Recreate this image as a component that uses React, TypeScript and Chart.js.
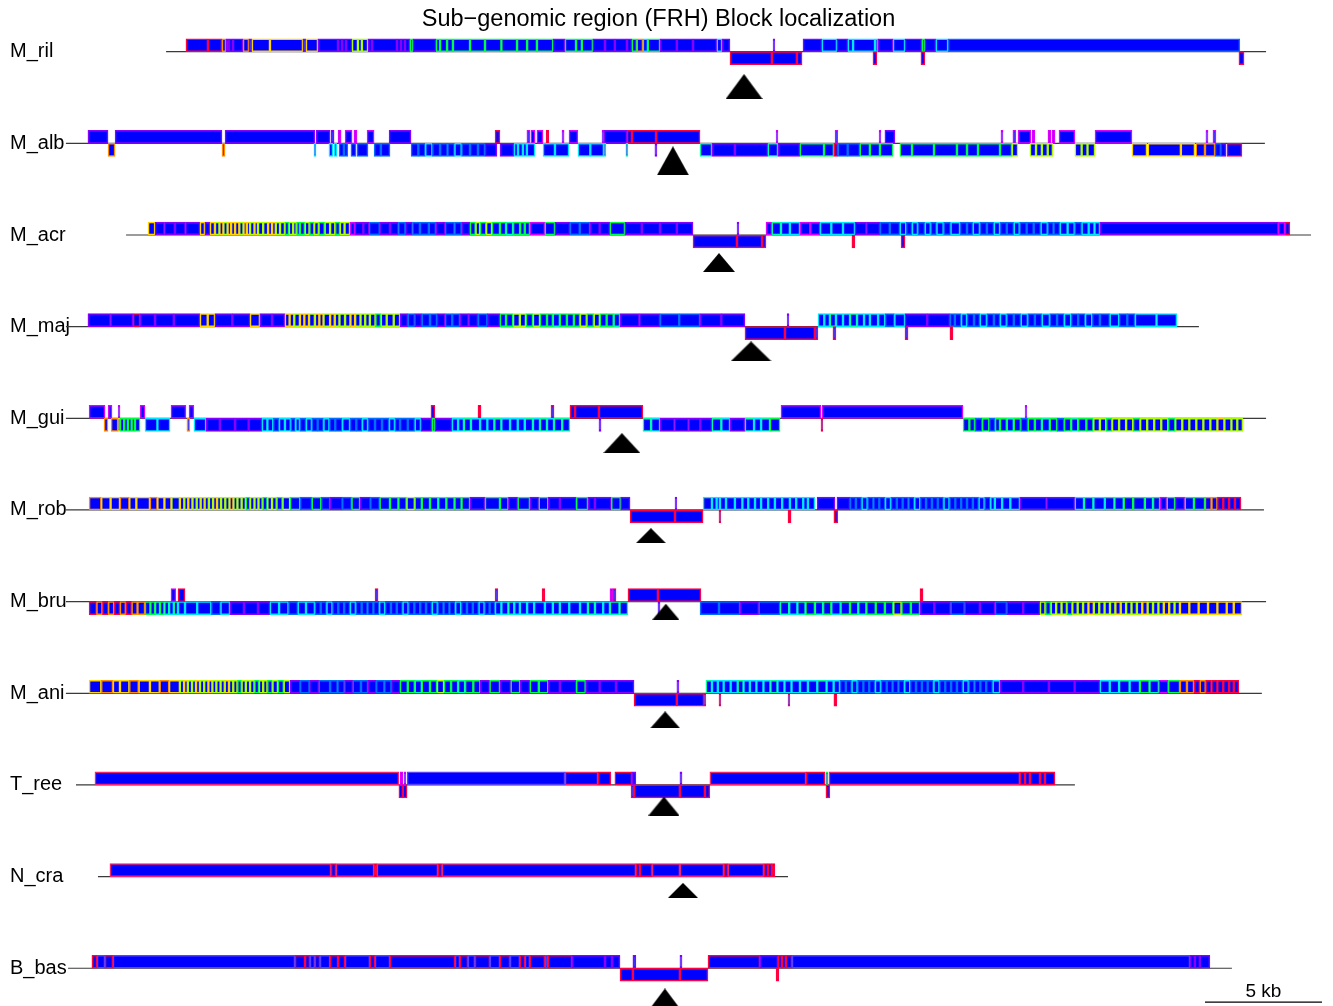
import React, { useEffect, useRef } from 'react';
import { Chart, registerables } from 'chart.js';
Chart.register(...registerables);

// ---------------- data (positions in kb) ----------------
const trackNames = ['M_ril', 'M_alb', 'M_acr', 'M_maj', 'M_gui', 'M_rob', 'M_bru', 'M_ani', 'T_ree', 'N_cra', 'B_bas'];
const lineStartKb = [6.67, 2.39, 4.96, 2.39, 2.39, 2.39, 2.39, 2.39, 2.82, 3.76, 2.48];
const lineEndKb = [53.68, 53.63, 55.6, 50.81, 53.68, 53.59, 53.68, 53.5, 45.51, 33.25, 52.22];
const frhKb = [31.37, 28.33, 30.3, 31.67, 26.15, 27.39, 28.03, 28.0, 27.95, 28.76, 27.99];
const frhDepth = [0.38, 0.19, 0.3, 0.27, 0.27, 0.28, 0.11, 0.29, 0.23, 0.15, 0.33];
const scaleBarKb = [51.07, 56.07];
const scaleBarDepth = 10.369;
const scaleBarLabel = '5 kb';
const titleText = 'Sub\u2212genomic region (FRH) Block localization';

// block: [start kb, end kb, strand (+1 above / -1 below), similarity class]
type Block = [number, number, number, string];

const M_ril: Block[] = [
  [7.52, 8.46, 1, 'R'], [8.46, 9.06, 1, 'R'], [9.06, 9.23, 1, 'O'], [9.23, 9.36, 1, 'P'], [9.36, 9.53, 1, 'P'], [9.53, 9.96, 1, 'P'],
  [9.96, 10.21, 1, 'O'], [10.21, 10.34, 1, 'P'], [10.34, 11.11, 1, 'Y'], [11.11, 12.52, 1, 'Y'], [12.52, 12.65, 1, 'P'], [12.65, 13.16, 1, 'Y'],
  [13.16, 14.02, 1, 'P'], [14.02, 14.19, 1, 'P'], [14.19, 14.36, 1, 'P'], [14.36, 14.62, 1, 'P'], [14.62, 14.87, 1, 'L'], [14.87, 15.04, 1, 'L'],
  [15.04, 15.3, 1, 'L'], [15.3, 15.47, 1, 'P'], [15.47, 16.54, 1, 'P'], [16.54, 16.71, 1, 'P'], [16.71, 16.88, 1, 'P'], [16.88, 17.09, 1, 'P'],
  [17.09, 17.22, 1, 'G'], [17.22, 18.21, 1, 'P'], [18.21, 18.38, 1, 'G'], [18.38, 18.68, 1, 'G'], [18.68, 18.93, 1, 'G'], [18.93, 19.66, 1, 'G'],
  [19.66, 20.3, 1, 'G'], [20.3, 21.0, 1, 'G'], [21.0, 21.67, 1, 'G'], [21.67, 22.1, 1, 'G'], [22.1, 22.52, 1, 'G'], [22.52, 23.21, 1, 'G'],
  [23.21, 23.72, 1, 'P'], [23.72, 24.19, 1, 'G'], [24.19, 24.44, 1, 'G'], [24.44, 24.91, 1, 'G'], [24.91, 25.43, 1, 'P'], [25.43, 25.85, 1, 'P'],
  [25.85, 26.37, 1, 'P'], [26.37, 26.58, 1, 'P'], [26.58, 26.79, 1, 'G'], [26.79, 27.05, 1, 'O'], [27.05, 27.26, 1, 'C'], [27.26, 27.78, 1, 'G'],
  [27.78, 28.5, 1, 'P'], [28.5, 29.19, 1, 'P'], [29.19, 30.21, 1, 'P'], [30.21, 30.43, 1, 'C'], [30.43, 30.77, 1, 'P'], [32.61, 32.69, 1, 'P'],
  [30.77, 32.56, -1, 'R'], [32.56, 33.63, -1, 'R'], [33.63, 33.85, -1, 'R'],
  [33.89, 34.7, 1, 'P'], [34.7, 35.34, 1, 'C'], [35.34, 35.81, 1, 'P'], [35.81, 36.03, 1, 'C'], [36.03, 36.97, 1, 'C'], [36.97, 37.09, 1, 'C'],
  [37.09, 37.74, 1, 'P'], [37.74, 38.25, 1, 'C'], [38.25, 38.97, 1, 'P'], [38.97, 39.1, 1, 'G'], [39.1, 39.57, 1, 'P'], [39.57, 40.09, 1, 'C'],
  [40.09, 52.56, 1, 'D'],
  [36.88, 37.05, -1, 'R'], [38.93, 39.1, -1, 'R'], [52.52, 52.74, -1, 'R'],
];

const M_alb: Block[] = [
  [3.33, 4.19, 1, 'P'], [4.49, 9.06, 1, 'P'], [9.19, 13.03, 1, 'P'], [13.08, 13.68, 1, 'P'], [13.72, 13.85, 1, 'P'], [14.02, 14.15, 1, 'M'],
  [14.32, 14.62, 1, 'M'], [14.7, 14.83, 1, 'M'], [15.26, 15.56, 1, 'M'], [16.2, 17.14, 1, 'P'], [20.73, 20.94, 1, 'R'], [22.09, 22.22, 1, 'M'],
  [22.26, 22.44, 1, 'M'], [22.52, 22.78, 1, 'M'], [22.91, 23.03, 1, 'R'], [23.59, 23.68, 1, 'M'], [23.89, 24.27, 1, 'M'], [25.3, 25.38, 1, 'M'],
  [25.38, 26.37, 1, 'P'], [26.37, 26.58, 1, 'R'], [26.58, 27.61, 1, 'R'], [27.61, 29.49, 1, 'R'], [32.74, 32.82, 1, 'M'], [35.26, 35.38, 1, 'M'],
  [37.14, 37.22, 1, 'M'], [37.39, 37.82, 1, 'P'], [42.35, 42.44, 1, 'M'], [42.86, 42.99, 1, 'M'], [43.08, 43.63, 1, 'M'], [43.68, 43.8, 1, 'M'],
  [44.36, 44.49, 1, 'M'], [44.53, 44.66, 1, 'M'], [44.83, 45.51, 1, 'M'], [46.37, 47.95, 1, 'M'], [51.11, 51.2, 1, 'M'], [51.41, 51.54, 1, 'M'],
  [4.19, 4.49, -1, 'O'], [9.06, 9.19, -1, 'O'], [12.99, 13.08, -1, 'C'], [13.63, 13.8, -1, 'C'], [13.85, 13.97, -1, 'C'], [14.06, 14.27, -1, 'D'],
  [14.27, 14.44, -1, 'D'], [14.57, 14.79, -1, 'D'], [14.83, 15.3, -1, 'D'], [15.56, 15.85, -1, 'D'], [15.85, 16.24, -1, 'D'], [17.14, 17.45, -1, 'D'],
  [17.45, 17.75, -1, 'D'], [17.75, 18.05, -1, 'C'], [18.05, 18.38, -1, 'D'], [18.38, 18.7, -1, 'D'], [18.7, 19.0, -1, 'D'], [19.0, 19.3, -1, 'C'],
  [19.3, 19.66, -1, 'D'], [19.66, 20.0, -1, 'D'], [20.0, 20.3, -1, 'D'], [20.3, 20.81, -1, 'P'], [20.94, 21.54, -1, 'P'], [21.54, 21.71, -1, 'C'],
  [21.71, 21.92, -1, 'C'], [21.92, 22.09, -1, 'C'], [22.09, 22.44, -1, 'C'], [22.78, 23.29, -1, 'C'], [23.29, 23.89, -1, 'C'], [24.27, 24.8, -1, 'C'],
  [24.8, 25.38, -1, 'C'], [25.38, 25.47, -1, 'S'], [26.32, 26.41, -1, 'S'], [27.56, 27.65, -1, 'P'], [29.49, 30.0, -1, 'S'], [30.0, 30.98, -1, 'P'],
  [30.98, 32.39, -1, 'P'], [32.39, 32.82, -1, 'S'], [32.82, 33.76, -1, 'P'], [33.76, 34.79, -1, 'G'], [34.79, 35.21, -1, 'G'], [35.21, 35.38, -1, 'R'],
  [35.38, 35.8, -1, 'D'], [35.8, 36.32, -1, 'D'], [36.32, 36.75, -1, 'G'], [36.75, 37.18, -1, 'G'], [37.18, 37.74, -1, 'G'], [38.03, 38.55, -1, 'G'],
  [38.55, 39.49, -1, 'G'], [39.49, 40.47, -1, 'G'], [40.47, 40.9, -1, 'G'], [40.9, 41.37, -1, 'G'], [41.37, 42.31, -1, 'G'], [42.31, 42.82, -1, 'G'],
  [42.82, 43.08, -1, 'L'], [43.59, 43.85, -1, 'L'], [43.85, 44.1, -1, 'L'], [44.1, 44.35, -1, 'L'], [44.35, 44.57, -1, 'L'], [45.51, 45.8, -1, 'L'],
  [45.8, 46.05, -1, 'L'], [46.05, 46.37, -1, 'L'], [47.95, 48.59, -1, 'Y'], [48.63, 50.04, -1, 'Y'], [50.04, 50.64, -1, 'Y'], [50.68, 51.07, -1, 'O'],
  [51.07, 51.5, -1, 'O'], [51.5, 51.75, -1, 'D'], [51.75, 51.97, -1, 'P'], [52.01, 52.65, -1, 'R'],
];

const M_acr: Block[] = [
  [5.9, 6.2, 1, 'Y'], [6.2, 6.6, 1, 'P'], [6.6, 7.05, 1, 'P'], [7.05, 7.5, 1, 'P'], [7.5, 8.12, 1, 'P'],
  [8.12, 8.33, 1, 'Y'], [8.33, 8.55, 1, 'P'], [8.55, 8.76, 1, 'Y'], [8.76, 8.95, 1, 'L'], [8.95, 9.12, 1, 'Y'], [9.12, 9.3, 1, 'L'],
  [9.3, 9.45, 1, 'Y'], [9.45, 9.62, 1, 'Y'], [9.62, 9.8, 1, 'Y'], [9.8, 9.98, 1, 'L'], [9.98, 10.12, 1, 'Y'], [10.12, 10.26, 1, 'Y'],
  [10.26, 10.45, 1, 'L'], [10.45, 10.6, 1, 'Y'], [10.6, 10.82, 1, 'L'], [10.82, 11.03, 1, 'L'], [11.03, 11.2, 1, 'Y'], [11.2, 11.36, 1, 'Y'],
  [11.36, 11.54, 1, 'L'], [11.54, 11.75, 1, 'L'], [11.75, 11.92, 1, 'G'], [11.92, 12.1, 1, 'L'], [12.1, 12.25, 1, 'L'], [12.25, 12.39, 1, 'G'],
  [12.39, 12.6, 1, 'G'], [12.6, 12.8, 1, 'L'], [12.8, 13.0, 1, 'G'], [13.0, 13.2, 1, 'L'], [13.2, 13.45, 1, 'G'], [13.45, 13.68, 1, 'L'],
  [13.68, 13.9, 1, 'L'], [13.9, 14.1, 1, 'G'], [14.1, 14.3, 1, 'L'], [14.3, 14.53, 1, 'L'], [14.53, 14.74, 1, 'M'],
  [14.74, 15.1, 1, 'P'], [15.1, 15.35, 1, 'P'], [15.35, 15.8, 1, 'D'], [15.8, 16.24, 1, 'P'], [16.24, 16.6, 1, 'P'], [16.6, 16.9, 1, 'D'],
  [16.9, 17.2, 1, 'P'], [17.2, 17.52, 1, 'D'], [17.52, 17.9, 1, 'D'], [17.9, 18.2, 1, 'D'], [18.2, 18.6, 1, 'P'], [18.6, 19.0, 1, 'D'],
  [19.0, 19.3, 1, 'D'], [19.3, 19.66, 1, 'P'], [19.66, 19.9, 1, 'G'], [19.9, 20.09, 1, 'L'], [20.09, 20.35, 1, 'G'], [20.35, 20.6, 1, 'L'],
  [20.6, 20.94, 1, 'G'], [20.94, 21.2, 1, 'G'], [21.2, 21.5, 1, 'S'], [21.5, 21.8, 1, 'G'], [21.8, 22.0, 1, 'G'], [22.0, 22.22, 1, 'G'],
  [22.22, 22.86, 1, 'M'], [22.86, 23.29, 1, 'G'], [23.29, 23.93, 1, 'P'], [23.93, 24.35, 1, 'D'], [24.35, 24.79, 1, 'D'], [24.79, 25.2, 1, 'P'],
  [25.2, 25.64, 1, 'P'], [25.64, 26.28, 1, 'G'], [26.28, 27.0, 1, 'P'], [27.0, 27.78, 1, 'P'], [27.78, 28.5, 1, 'P'], [28.5, 29.19, 1, 'P'],
  [31.07, 31.15, 1, 'P'],
  [29.19, 31.07, -1, 'R'], [31.07, 32.14, -1, 'R'], [32.14, 32.31, -1, 'R'],
  [32.31, 32.56, 1, 'M'], [32.56, 32.95, 1, 'S'], [32.95, 33.33, 1, 'C'], [33.33, 33.76, 1, 'C'], [33.76, 34.2, 1, 'M'], [34.2, 34.62, 1, 'M'],
  [34.62, 35.1, 1, 'C'], [35.1, 35.6, 1, 'C'], [35.6, 36.11, 1, 'C'], [36.11, 36.6, 1, 'P'], [36.6, 37.18, 1, 'P'], [37.18, 37.6, 1, 'D'],
  [37.6, 38.03, 1, 'D'], [38.03, 38.3, 1, 'C'], [38.3, 38.55, 1, 'D'], [38.55, 38.8, 1, 'C'], [38.8, 39.1, 1, 'D'], [39.1, 39.35, 1, 'C'],
  [39.35, 39.6, 1, 'D'], [39.6, 39.9, 1, 'C'], [39.9, 40.2, 1, 'D'], [40.2, 40.6, 1, 'C'], [40.6, 40.9, 1, 'D'], [40.9, 41.15, 1, 'D'],
  [41.15, 41.45, 1, 'C'], [41.45, 41.75, 1, 'D'], [41.75, 42.05, 1, 'D'], [42.05, 42.31, 1, 'C'], [42.31, 42.6, 1, 'D'], [42.6, 42.9, 1, 'D'],
  [42.9, 43.15, 1, 'C'], [43.15, 43.45, 1, 'D'], [43.45, 43.75, 1, 'D'], [43.75, 44.05, 1, 'D'], [44.05, 44.35, 1, 'C'], [44.35, 44.6, 1, 'D'],
  [44.6, 44.87, 1, 'D'], [44.87, 45.2, 1, 'C'], [45.2, 45.5, 1, 'C'], [45.5, 45.8, 1, 'D'], [45.8, 46.1, 1, 'C'], [46.1, 46.35, 1, 'C'],
  [46.35, 46.58, 1, 'C'], [46.58, 54.2, 1, 'P'], [54.2, 54.49, 1, 'M'], [54.49, 54.7, 1, 'R'],
  [35.98, 36.11, -1, 'R'], [38.08, 38.25, -1, 'R'],
];

const M_maj: Block[] = [
  [3.33, 4.3, 1, 'P'], [4.3, 5.26, 1, 'P'], [5.26, 5.56, 1, 'R'], [5.56, 6.2, 1, 'P'], [6.2, 7.0, 1, 'P'], [7.0, 8.12, 1, 'P'],
  [8.12, 8.45, 1, 'Y'], [8.45, 8.76, 1, 'Y'], [8.76, 9.5, 1, 'P'], [9.5, 10.26, 1, 'P'], [10.26, 10.68, 1, 'Y'], [10.68, 11.2, 1, 'P'],
  [11.2, 11.75, 1, 'P'], [11.75, 11.95, 1, 'Y'], [11.95, 12.15, 1, 'Y'], [12.15, 12.39, 1, 'L'], [12.39, 12.58, 1, 'Y'], [12.58, 12.78, 1, 'Y'],
  [12.78, 13.03, 1, 'L'], [13.03, 13.22, 1, 'Y'], [13.22, 13.4, 1, 'Y'], [13.4, 13.68, 1, 'L'], [13.68, 13.88, 1, 'Y'], [13.88, 14.08, 1, 'L'],
  [14.08, 14.32, 1, 'L'], [14.32, 14.55, 1, 'L'], [14.55, 14.75, 1, 'Y'], [14.75, 14.98, 1, 'L'], [14.98, 15.18, 1, 'L'], [15.18, 15.38, 1, 'L'],
  [15.38, 15.62, 1, 'L'], [15.62, 15.85, 1, 'G'], [15.85, 16.1, 1, 'L'], [16.1, 16.4, 1, 'L'], [16.4, 16.67, 1, 'L'],
  [16.67, 17.0, 1, 'P'], [17.0, 17.3, 1, 'D'], [17.3, 17.6, 1, 'P'], [17.6, 17.95, 1, 'D'], [17.95, 18.25, 1, 'D'], [18.25, 18.6, 1, 'P'],
  [18.6, 18.9, 1, 'D'], [18.9, 19.23, 1, 'D'], [19.23, 19.6, 1, 'P'], [19.6, 20.0, 1, 'P'], [20.0, 20.4, 1, 'D'], [20.4, 20.94, 1, 'P'],
  [20.94, 21.2, 1, 'G'], [21.2, 21.5, 1, 'G'], [21.5, 21.79, 1, 'L'], [21.79, 22.05, 1, 'L'], [22.05, 22.35, 1, 'G'], [22.35, 22.65, 1, 'L'],
  [22.65, 22.95, 1, 'G'], [22.95, 23.2, 1, 'G'], [23.2, 23.5, 1, 'S'], [23.5, 23.8, 1, 'G'], [23.8, 24.1, 1, 'G'], [24.1, 24.36, 1, 'G'],
  [24.36, 24.65, 1, 'L'], [24.65, 24.95, 1, 'G'], [24.95, 25.21, 1, 'L'], [25.21, 25.5, 1, 'G'], [25.5, 25.8, 1, 'G'], [25.8, 26.07, 1, 'S'],
  [26.07, 26.9, 1, 'P'], [26.9, 27.78, 1, 'P'], [27.78, 28.6, 1, 'D'], [28.6, 29.49, 1, 'D'], [29.49, 30.4, 1, 'P'], [30.4, 31.41, 1, 'P'],
  [33.21, 33.29, 1, 'P'],
  [31.41, 33.12, -1, 'R'], [33.12, 34.4, -1, 'R'], [34.4, 34.53, -1, 'R'],
  [34.53, 34.8, 1, 'C'], [34.8, 35.04, 1, 'C'], [35.04, 35.3, 1, 'S'], [35.3, 35.6, 1, 'C'], [35.6, 35.9, 1, 'C'], [35.9, 36.2, 1, 'S'],
  [36.2, 36.5, 1, 'C'], [36.5, 36.75, 1, 'C'], [36.75, 37.1, 1, 'C'], [37.1, 37.4, 1, 'C'], [37.4, 37.8, 1, 'D'], [37.8, 38.25, 1, 'C'],
  [38.25, 39.2, 1, 'P'], [39.2, 40.17, 1, 'P'], [40.17, 40.38, 1, 'D'],
  [40.38, 40.65, 1, 'D'], [40.65, 40.9, 1, 'C'], [40.9, 41.2, 1, 'D'], [41.2, 41.45, 1, 'D'], [41.45, 41.75, 1, 'C'], [41.75, 42.05, 1, 'D'],
  [42.05, 42.31, 1, 'D'], [42.31, 42.6, 1, 'C'], [42.6, 42.9, 1, 'D'], [42.9, 43.2, 1, 'D'], [43.2, 43.5, 1, 'C'], [43.5, 43.8, 1, 'D'],
  [43.8, 44.1, 1, 'D'], [44.1, 44.44, 1, 'C'], [44.44, 44.75, 1, 'D'], [44.75, 45.05, 1, 'D'], [45.05, 45.35, 1, 'C'], [45.35, 45.65, 1, 'D'],
  [45.65, 45.95, 1, 'D'], [45.95, 46.25, 1, 'C'], [46.25, 46.58, 1, 'D'], [46.58, 47.0, 1, 'D'], [47.0, 47.4, 1, 'C'], [47.4, 47.75, 1, 'D'],
  [47.75, 48.08, 1, 'D'], [48.08, 49.0, 1, 'C'], [49.0, 49.87, 1, 'C'],
  [35.17, 35.3, -1, 'R'], [38.25, 38.38, -1, 'R'], [40.17, 40.3, -1, 'R'],
];

const M_gui: Block[] = [
  [3.38, 4.06, 1, 'M'], [4.19, 4.36, 1, 'M'], [4.62, 4.7, 1, 'M'], [5.56, 5.77, 1, 'M'], [6.88, 7.52, 1, 'M'], [7.65, 7.86, 1, 'M'],
  [17.99, 18.16, 1, 'R'], [20.0, 20.13, 1, 'R'], [23.12, 23.25, 1, 'R'], [23.93, 24.15, 1, 'R'], [24.15, 25.17, 1, 'R'], [25.17, 27.05, 1, 'R'],
  [32.95, 34.66, 1, 'M'], [34.7, 40.73, 1, 'M'], [43.38, 43.46, 1, 'M'],
  [4.02, 4.19, -1, 'O'], [4.32, 4.62, -1, 'O'], [4.62, 4.7, -1, 'Y'], [4.7, 4.88, -1, 'G'], [4.88, 5.04, -1, 'G'], [5.04, 5.2, -1, 'G'],
  [5.2, 5.34, -1, 'G'], [5.34, 5.56, -1, 'G'], [5.77, 6.3, -1, 'C'], [6.3, 6.84, -1, 'C'], [7.56, 7.69, -1, 'O'], [7.86, 8.38, -1, 'C'],
  [8.38, 8.97, -1, 'P'], [8.97, 9.62, -1, 'P'], [9.62, 10.2, -1, 'P'], [10.2, 10.77, -1, 'P'],
  [10.77, 11.0, -1, 'C'], [11.0, 11.25, -1, 'C'], [11.25, 11.5, -1, 'D'], [11.5, 11.75, -1, 'C'], [11.75, 12.0, -1, 'C'], [12.0, 12.2, -1, 'D'],
  [12.2, 12.39, -1, 'C'], [12.39, 12.65, -1, 'D'], [12.65, 12.9, -1, 'C'], [12.9, 13.15, -1, 'D'], [13.15, 13.4, -1, 'D'], [13.4, 13.65, -1, 'C'],
  [13.65, 13.9, -1, 'D'], [13.9, 14.2, -1, 'D'], [14.2, 14.53, -1, 'C'], [14.53, 14.8, -1, 'D'], [14.8, 15.05, -1, 'D'], [15.05, 15.3, -1, 'C'],
  [15.3, 15.6, -1, 'D'], [15.6, 15.9, -1, 'D'], [15.9, 16.2, -1, 'D'], [16.2, 16.45, -1, 'C'], [16.45, 16.67, -1, 'D'], [16.67, 17.0, -1, 'D'],
  [17.0, 17.3, -1, 'D'], [17.3, 17.56, -1, 'C'], [17.56, 18.03, -1, 'P'], [18.03, 18.16, -1, 'G'], [18.16, 18.89, -1, 'P'],
  [18.89, 19.15, -1, 'C'], [19.15, 19.4, -1, 'C'], [19.4, 19.7, -1, 'S'], [19.7, 20.09, -1, 'C'], [20.09, 20.4, -1, 'C'], [20.4, 20.7, -1, 'C'],
  [20.7, 21.0, -1, 'S'], [21.0, 21.37, -1, 'C'], [21.37, 21.7, -1, 'C'], [21.7, 22.0, -1, 'C'], [22.0, 22.35, -1, 'S'], [22.35, 22.65, -1, 'C'],
  [22.65, 22.95, -1, 'S'], [22.95, 23.25, -1, 'C'], [23.25, 23.6, -1, 'S'], [23.6, 23.93, -1, 'S'], [25.17, 25.26, -1, 'P'],
  [27.05, 27.4, -1, 'S'], [27.4, 27.78, -1, 'C'], [27.78, 28.4, -1, 'P'], [28.4, 29.0, -1, 'P'], [29.0, 29.5, -1, 'P'], [29.5, 30.0, -1, 'P'],
  [30.0, 30.4, -1, 'S'], [30.4, 30.77, -1, 'C'], [30.77, 31.41, -1, 'P'], [31.41, 31.8, -1, 'S'], [31.8, 32.1, -1, 'C'], [32.1, 32.48, -1, 'S'],
  [32.48, 32.91, -1, 'G'], [34.66, 34.74, -1, 'R'],
  [40.73, 41.0, -1, 'G'], [41.0, 41.24, -1, 'G'], [41.24, 41.55, -1, 'D'], [41.55, 41.85, -1, 'G'], [41.85, 42.1, -1, 'D'], [42.1, 42.31, -1, 'G'],
  [42.31, 42.6, -1, 'G'], [42.6, 42.9, -1, 'S'], [42.9, 43.2, -1, 'G'], [43.2, 43.5, -1, 'D'], [43.5, 43.8, -1, 'G'], [43.8, 44.1, -1, 'G'],
  [44.1, 44.44, -1, 'S'], [44.44, 44.75, -1, 'G'], [44.75, 45.05, -1, 'D'], [45.05, 45.35, -1, 'G'], [45.35, 45.65, -1, 'S'], [45.65, 46.0, -1, 'G'],
  [46.0, 46.3, -1, 'G'], [46.3, 46.58, -1, 'L'], [46.58, 46.85, -1, 'L'], [46.85, 47.1, -1, 'G'], [47.1, 47.4, -1, 'L'], [47.4, 47.7, -1, 'L'],
  [47.7, 48.0, -1, 'L'], [48.0, 48.3, -1, 'G'], [48.3, 48.6, -1, 'L'], [48.6, 48.9, -1, 'L'], [48.9, 49.2, -1, 'L'], [49.2, 49.5, -1, 'L'],
  [49.5, 49.8, -1, 'G'], [49.8, 50.1, -1, 'L'], [50.1, 50.4, -1, 'L'], [50.4, 50.7, -1, 'L'], [50.7, 51.0, -1, 'L'], [51.0, 51.3, -1, 'L'],
  [51.3, 51.6, -1, 'L'], [51.6, 51.9, -1, 'Y'], [51.9, 52.2, -1, 'L'], [52.2, 52.45, -1, 'L'], [52.45, 52.69, -1, 'L'],
];

const M_rob: Block[] = [
  [3.38, 3.9, 1, 'O'], [3.9, 4.3, 1, 'Y'], [4.3, 4.7, 1, 'Y'], [4.7, 5.1, 1, 'O'], [5.1, 5.4, 1, 'Y'], [5.4, 5.98, 1, 'Y'],
  [5.98, 6.3, 1, 'O'], [6.3, 6.6, 1, 'Y'], [6.6, 6.9, 1, 'Y'], [6.9, 7.26, 1, 'L'],
  [7.26, 7.45, 1, 'Y'], [7.45, 7.62, 1, 'L'], [7.62, 7.8, 1, 'Y'], [7.8, 7.98, 1, 'L'], [7.98, 8.15, 1, 'L'], [8.15, 8.32, 1, 'Y'],
  [8.32, 8.5, 1, 'L'], [8.5, 8.68, 1, 'L'], [8.68, 8.85, 1, 'Y'], [8.85, 9.02, 1, 'L'], [9.02, 9.2, 1, 'L'], [9.2, 9.38, 1, 'L'],
  [9.38, 9.55, 1, 'Y'], [9.55, 9.72, 1, 'L'], [9.72, 9.9, 1, 'L'], [9.9, 10.08, 1, 'L'], [10.08, 10.26, 1, 'G'], [10.26, 10.45, 1, 'L'],
  [10.45, 10.62, 1, 'L'], [10.62, 10.8, 1, 'L'], [10.8, 11.0, 1, 'G'], [11.0, 11.2, 1, 'L'], [11.2, 11.4, 1, 'L'], [11.4, 11.65, 1, 'G'],
  [11.65, 11.97, 1, 'L'],
  [11.97, 12.4, 1, 'G'], [12.4, 12.9, 1, 'D'], [12.9, 13.3, 1, 'G'], [13.3, 13.68, 1, 'D'], [13.68, 14.2, 1, 'P'], [14.2, 14.6, 1, 'D'],
  [14.6, 14.96, 1, 'G'], [14.96, 15.4, 1, 'P'], [15.4, 15.8, 1, 'D'], [15.8, 16.24, 1, 'G'], [16.24, 16.6, 1, 'G'], [16.6, 16.95, 1, 'G'],
  [16.95, 17.3, 1, 'L'], [17.3, 17.6, 1, 'G'], [17.6, 17.95, 1, 'G'], [17.95, 18.3, 1, 'G'], [18.3, 18.65, 1, 'S'], [18.65, 19.0, 1, 'G'],
  [19.0, 19.3, 1, 'G'], [19.3, 19.66, 1, 'G'], [19.66, 20.3, 1, 'P'], [20.3, 20.94, 1, 'G'], [20.94, 21.3, 1, 'G'], [21.3, 21.7, 1, 'P'],
  [21.7, 22.22, 1, 'G'], [22.22, 22.6, 1, 'P'], [22.6, 23.0, 1, 'G'], [23.0, 23.5, 1, 'P'], [23.5, 24.2, 1, 'P'], [24.2, 24.7, 1, 'G'],
  [24.7, 25.0, 1, 'P'], [25.0, 25.7, 1, 'P'], [25.7, 26.1, 1, 'G'], [26.1, 26.5, 1, 'P'], [28.42, 28.5, 1, 'P'],
  [26.5, 28.42, -1, 'R'], [28.42, 29.62, -1, 'R'],
  [29.62, 30.0, 1, 'S'], [30.0, 30.2, 1, 'C'], [30.2, 30.34, 1, 'C'], [30.34, 30.6, 1, 'C'], [30.6, 30.98, 1, 'C'], [30.98, 31.3, 1, 'C'],
  [31.3, 31.55, 1, 'C'], [31.55, 31.84, 1, 'C'], [31.84, 32.1, 1, 'C'], [32.1, 32.4, 1, 'C'], [32.4, 32.69, 1, 'C'], [32.69, 33.0, 1, 'C'],
  [33.0, 33.33, 1, 'C'], [33.33, 33.6, 1, 'C'], [33.6, 33.9, 1, 'C'], [33.9, 34.1, 1, 'C'], [34.1, 34.4, 1, 'C'], [34.49, 35.26, 1, 'P'],
  [35.34, 35.9, 1, 'P'],
  [35.9, 36.15, 1, 'D'], [36.15, 36.4, 1, 'D'], [36.4, 36.65, 1, 'C'], [36.65, 36.9, 1, 'D'], [36.9, 37.15, 1, 'D'], [37.15, 37.4, 1, 'D'],
  [37.4, 37.65, 1, 'C'], [37.65, 37.9, 1, 'D'], [37.9, 38.15, 1, 'D'], [38.15, 38.4, 1, 'D'], [38.4, 38.65, 1, 'D'], [38.65, 38.9, 1, 'C'],
  [38.9, 39.15, 1, 'D'], [39.15, 39.4, 1, 'D'], [39.4, 39.65, 1, 'D'], [39.65, 39.9, 1, 'D'], [39.9, 40.15, 1, 'C'], [40.15, 40.4, 1, 'D'],
  [40.4, 40.65, 1, 'D'], [40.65, 40.9, 1, 'D'], [40.9, 41.15, 1, 'D'], [41.15, 41.4, 1, 'D'], [41.4, 41.65, 1, 'C'], [41.65, 41.9, 1, 'D'],
  [41.9, 42.09, 1, 'C'], [42.09, 42.4, 1, 'C'], [42.4, 42.75, 1, 'C'], [42.75, 43.16, 1, 'C'], [43.16, 44.3, 1, 'P'], [44.3, 45.51, 1, 'P'],
  [45.51, 45.9, 1, 'C'], [45.9, 46.3, 1, 'S'], [46.3, 46.79, 1, 'C'], [46.79, 47.2, 1, 'G'], [47.2, 47.6, 1, 'S'], [47.6, 48.0, 1, 'G'],
  [48.0, 48.5, 1, 'G'], [48.5, 48.85, 1, 'S'], [48.85, 49.15, 1, 'G'], [49.15, 49.44, 1, 'M'], [49.44, 49.79, 1, 'G'], [49.79, 50.21, 1, 'M'],
  [50.21, 50.6, 1, 'G'], [50.6, 51.07, 1, 'G'], [51.07, 51.35, 1, 'O'], [51.35, 51.6, 1, 'O'], [51.6, 51.85, 1, 'R'], [51.85, 52.1, 1, 'R'],
  [52.1, 52.35, 1, 'R'], [52.35, 52.61, 1, 'R'],
  [30.3, 30.38, -1, 'R'], [33.25, 33.38, -1, 'R'], [35.21, 35.38, -1, 'R'],
];

const M_bru: Block[] = [
  [3.38, 3.7, -1, 'R'], [3.7, 3.95, -1, 'O'], [3.95, 4.2, -1, 'R'], [4.2, 4.45, -1, 'O'], [4.45, 4.7, -1, 'R'], [4.7, 4.95, -1, 'O'],
  [4.95, 5.2, -1, 'R'], [5.2, 5.45, -1, 'O'], [5.45, 5.77, -1, 'O'], [5.77, 6.0, -1, 'G'], [6.0, 6.2, -1, 'G'], [6.2, 6.41, -1, 'S'],
  [6.41, 6.6, -1, 'G'], [6.6, 6.8, -1, 'S'], [6.8, 7.0, -1, 'C'], [7.0, 7.18, -1, 'S'], [7.18, 7.48, -1, 'C'], [7.48, 8.0, -1, 'C'],
  [8.0, 8.6, -1, 'C'], [8.6, 9.0, -1, 'D'], [9.0, 9.4, -1, 'C'], [9.4, 10.0, -1, 'P'], [10.0, 10.6, -1, 'P'], [10.6, 11.11, -1, 'P'],
  [11.11, 11.5, -1, 'C'], [11.5, 11.9, -1, 'C'], [11.9, 12.3, -1, 'D'], [12.3, 12.65, -1, 'C'], [12.65, 13.03, -1, 'C'],
  [13.03, 13.28, -1, 'D'], [13.28, 13.53, -1, 'D'], [13.53, 13.78, -1, 'C'], [13.78, 14.03, -1, 'D'], [14.03, 14.28, -1, 'D'], [14.28, 14.53, -1, 'D'],
  [14.53, 14.78, -1, 'C'], [14.78, 15.03, -1, 'D'], [15.03, 15.28, -1, 'D'], [15.28, 15.53, -1, 'D'], [15.53, 15.78, -1, 'D'], [15.78, 16.03, -1, 'C'],
  [16.03, 16.28, -1, 'D'], [16.28, 16.53, -1, 'D'], [16.53, 16.78, -1, 'D'], [16.78, 17.03, -1, 'C'], [17.03, 17.28, -1, 'D'], [17.28, 17.53, -1, 'D'],
  [17.53, 17.78, -1, 'D'], [17.78, 18.03, -1, 'D'], [18.03, 18.28, -1, 'C'], [18.28, 18.53, -1, 'D'], [18.53, 18.78, -1, 'D'], [18.78, 19.03, -1, 'D'],
  [19.03, 19.28, -1, 'C'], [19.28, 19.53, -1, 'D'], [19.53, 19.78, -1, 'D'], [19.78, 20.03, -1, 'D'], [20.03, 20.28, -1, 'C'], [20.28, 20.5, -1, 'D'],
  [20.5, 20.73, -1, 'D'], [20.73, 21.0, -1, 'C'], [21.0, 21.3, -1, 'C'], [21.3, 21.55, -1, 'S'], [21.55, 21.79, -1, 'C'], [21.79, 22.1, -1, 'C'],
  [22.1, 22.4, -1, 'C'], [22.4, 22.86, -1, 'C'], [22.86, 23.2, -1, 'C'], [23.2, 23.5, -1, 'S'], [23.5, 23.9, -1, 'C'], [23.9, 24.36, -1, 'C'],
  [24.36, 24.7, -1, 'C'], [24.7, 25.0, -1, 'S'], [25.0, 25.35, -1, 'C'], [25.35, 25.64, -1, 'C'], [25.64, 26.05, -1, 'S'], [26.05, 26.41, -1, 'S'],
  [6.88, 7.09, 1, 'M'], [7.18, 7.48, 1, 'R'], [15.6, 15.73, 1, 'R'], [20.73, 20.85, 1, 'R'], [22.74, 22.86, 1, 'R'], [25.64, 25.77, 1, 'M'],
  [25.77, 25.9, 1, 'R'], [26.41, 27.69, 1, 'R'], [27.69, 29.53, 1, 'R'], [38.89, 39.02, 1, 'R'],
  [27.69, 27.78, -1, 'P'], [29.49, 30.3, -1, 'D'], [30.3, 31.2, -1, 'D'], [31.2, 32.0, -1, 'P'], [32.0, 32.91, -1, 'D'], [32.91, 33.3, -1, 'S'],
  [33.3, 33.65, -1, 'C'], [33.65, 34.0, -1, 'S'], [34.0, 34.4, -1, 'G'], [34.4, 34.75, -1, 'S'], [34.75, 35.1, -1, 'G'], [35.1, 35.5, -1, 'C'],
  [35.5, 35.9, -1, 'G'], [35.9, 36.25, -1, 'G'], [36.25, 36.6, -1, 'S'], [36.6, 37.0, -1, 'G'], [37.0, 37.39, -1, 'G'], [37.39, 37.75, -1, 'G'],
  [37.75, 38.1, -1, 'L'], [38.1, 38.5, -1, 'G'], [38.5, 38.89, -1, 'G'], [38.89, 39.5, -1, 'P'], [39.5, 40.2, -1, 'P'], [40.2, 40.8, -1, 'D'],
  [40.8, 41.45, -1, 'P'], [41.45, 42.1, -1, 'P'], [42.1, 42.6, -1, 'D'], [42.6, 43.3, -1, 'P'], [43.3, 44.02, -1, 'P'],
  [44.02, 44.25, -1, 'L'], [44.25, 44.48, -1, 'G'], [44.48, 44.71, -1, 'L'], [44.71, 44.94, -1, 'L'], [44.94, 45.17, -1, 'L'], [45.17, 45.4, -1, 'G'],
  [45.4, 45.63, -1, 'L'], [45.63, 45.86, -1, 'L'], [45.86, 46.09, -1, 'L'], [46.09, 46.32, -1, 'Y'], [46.32, 46.55, -1, 'L'], [46.55, 46.78, -1, 'L'],
  [46.78, 47.01, -1, 'L'], [47.01, 47.24, -1, 'L'], [47.24, 47.47, -1, 'Y'], [47.47, 47.7, -1, 'L'], [47.7, 47.93, -1, 'L'], [47.93, 48.16, -1, 'L'],
  [48.16, 48.39, -1, 'L'], [48.39, 48.62, -1, 'Y'], [48.62, 48.85, -1, 'L'], [48.85, 49.08, -1, 'L'], [49.08, 49.31, -1, 'L'], [49.31, 49.54, -1, 'Y'],
  [49.54, 49.77, -1, 'L'], [49.77, 50.0, -1, 'L'], [50.0, 50.4, -1, 'Y'], [50.4, 50.8, -1, 'Y'], [50.8, 51.2, -1, 'Y'], [51.2, 51.6, -1, 'Y'],
  [51.6, 52.0, -1, 'Y'], [52.0, 52.3, -1, 'Y'], [52.3, 52.65, -1, 'Y'],
];

const M_ani: Block[] = [
  [3.38, 3.9, 1, 'Y'], [3.9, 4.4, 1, 'O'], [4.4, 4.7, 1, 'Y'], [4.7, 5.1, 1, 'Y'], [5.1, 5.5, 1, 'O'], [5.5, 5.98, 1, 'Y'],
  [5.98, 6.4, 1, 'Y'], [6.4, 6.8, 1, 'O'], [6.8, 7.26, 1, 'Y'],
  [7.26, 7.44, 1, 'L'], [7.44, 7.6, 1, 'Y'], [7.6, 7.78, 1, 'L'], [7.78, 7.95, 1, 'L'], [7.95, 8.12, 1, 'Y'], [8.12, 8.3, 1, 'L'],
  [8.3, 8.48, 1, 'L'], [8.48, 8.65, 1, 'Y'], [8.65, 8.82, 1, 'L'], [8.82, 9.0, 1, 'L'], [9.0, 9.18, 1, 'L'], [9.18, 9.36, 1, 'Y'],
  [9.36, 9.54, 1, 'L'], [9.54, 9.72, 1, 'L'], [9.72, 9.9, 1, 'G'], [9.9, 10.08, 1, 'L'], [10.08, 10.26, 1, 'L'], [10.26, 10.45, 1, 'L'],
  [10.45, 10.64, 1, 'G'], [10.64, 10.82, 1, 'L'], [10.82, 11.0, 1, 'L'], [11.0, 11.22, 1, 'G'], [11.22, 11.45, 1, 'L'], [11.45, 11.7, 1, 'G'],
  [11.7, 11.97, 1, 'L'],
  [11.97, 12.4, 1, 'P'], [12.4, 12.8, 1, 'D'], [12.8, 13.2, 1, 'P'], [13.2, 13.68, 1, 'D'], [13.68, 14.0, 1, 'D'], [14.0, 14.3, 1, 'D'],
  [14.3, 14.65, 1, 'P'], [14.65, 15.0, 1, 'D'], [15.0, 15.3, 1, 'D'], [15.3, 15.65, 1, 'P'], [15.65, 16.0, 1, 'D'], [16.0, 16.3, 1, 'D'],
  [16.3, 16.67, 1, 'P'], [16.67, 17.0, 1, 'G'], [17.0, 17.3, 1, 'G'], [17.3, 17.6, 1, 'S'], [17.6, 17.95, 1, 'G'], [17.95, 18.25, 1, 'G'],
  [18.25, 18.55, 1, 'L'], [18.55, 18.85, 1, 'G'], [18.85, 19.15, 1, 'G'], [19.15, 19.45, 1, 'S'], [19.45, 19.8, 1, 'G'], [19.8, 20.1, 1, 'G'],
  [20.1, 20.5, 1, 'P'], [20.5, 20.94, 1, 'G'], [20.94, 21.4, 1, 'P'], [21.4, 21.8, 1, 'G'], [21.8, 22.22, 1, 'P'], [22.22, 22.6, 1, 'G'],
  [22.6, 23.0, 1, 'G'], [23.0, 23.5, 1, 'P'], [23.5, 24.2, 1, 'P'], [24.2, 24.6, 1, 'G'], [24.6, 25.2, 1, 'P'], [25.2, 25.9, 1, 'P'],
  [25.9, 26.67, 1, 'P'], [28.5, 28.59, 1, 'P'],
  [26.67, 28.5, -1, 'R'], [28.5, 29.66, -1, 'R'], [29.66, 29.74, -1, 'R'],
  [29.74, 30.0, 1, 'S'], [30.0, 30.25, 1, 'C'], [30.25, 30.5, 1, 'C'], [30.5, 30.8, 1, 'C'], [30.8, 31.1, 1, 'C'], [31.1, 31.35, 1, 'S'],
  [31.35, 31.62, 1, 'C'], [31.62, 31.9, 1, 'C'], [31.9, 32.2, 1, 'C'], [32.2, 32.5, 1, 'C'], [32.5, 32.8, 1, 'S'], [32.8, 33.1, 1, 'C'],
  [33.1, 33.4, 1, 'C'], [33.4, 33.76, 1, 'C'], [33.76, 34.1, 1, 'C'], [34.1, 34.5, 1, 'C'], [34.5, 34.9, 1, 'S'], [34.9, 35.2, 1, 'C'],
  [35.2, 35.47, 1, 'C'],
  [35.47, 35.72, 1, 'D'], [35.72, 35.97, 1, 'D'], [35.97, 36.22, 1, 'C'], [36.22, 36.47, 1, 'D'], [36.47, 36.72, 1, 'D'], [36.72, 36.97, 1, 'D'],
  [36.97, 37.22, 1, 'C'], [37.22, 37.47, 1, 'D'], [37.47, 37.72, 1, 'D'], [37.72, 37.97, 1, 'D'], [37.97, 38.22, 1, 'D'], [38.22, 38.47, 1, 'C'],
  [38.47, 38.72, 1, 'D'], [38.72, 38.97, 1, 'D'], [38.97, 39.22, 1, 'D'], [39.22, 39.47, 1, 'D'], [39.47, 39.72, 1, 'C'], [39.72, 39.97, 1, 'D'],
  [39.97, 40.22, 1, 'D'], [40.22, 40.47, 1, 'D'], [40.47, 40.72, 1, 'D'], [40.72, 40.97, 1, 'C'], [40.97, 41.22, 1, 'D'], [41.22, 41.47, 1, 'D'],
  [41.47, 41.72, 1, 'D'], [41.72, 42.0, 1, 'D'], [42.0, 42.31, 1, 'C'],
  [42.31, 43.3, 1, 'P'], [43.3, 44.4, 1, 'P'], [44.4, 45.5, 1, 'P'], [45.5, 46.58, 1, 'P'], [46.58, 47.0, 1, 'C'], [47.0, 47.4, 1, 'C'],
  [47.4, 47.85, 1, 'S'], [47.85, 48.29, 1, 'C'], [48.29, 48.7, 1, 'G'], [48.7, 49.1, 1, 'S'], [49.1, 49.5, 1, 'M'], [49.5, 50.0, 1, 'G'],
  [50.0, 50.3, 1, 'O'], [50.3, 50.6, 1, 'O'], [50.6, 50.85, 1, 'R'], [50.85, 51.1, 1, 'O'], [51.1, 51.35, 1, 'R'], [51.35, 51.6, 1, 'R'],
  [51.6, 51.85, 1, 'R'], [51.85, 52.1, 1, 'R'], [52.1, 52.3, 1, 'R'], [52.3, 52.52, 1, 'R'],
  [30.3, 30.38, -1, 'R'], [33.25, 33.33, -1, 'R'], [35.21, 35.34, -1, 'R'],
];

const T_ree: Block[] = [
  [3.63, 16.62, 1, 'K'], [16.67, 16.79, 1, 'M'], [16.84, 16.92, 1, 'M'], [16.97, 23.72, 1, 'V'], [23.72, 25.13, 1, 'K'], [25.13, 25.68, 1, 'R'],
  [25.85, 26.58, 1, 'R'], [26.58, 26.75, 1, 'P'], [28.63, 28.72, 1, 'P'], [29.91, 34.02, 1, 'K'], [34.02, 34.83, 1, 'R'], [34.87, 34.96, 1, 'G'],
  [35.0, 43.16, 1, 'K'], [43.16, 43.38, 1, 'R'], [43.38, 43.59, 1, 'R'], [43.59, 44.02, 1, 'R'], [44.02, 44.23, 1, 'R'], [44.23, 44.66, 1, 'R'],
  [16.62, 16.79, -1, 'R'], [16.79, 16.97, -1, 'R'], [26.54, 26.67, -1, 'R'], [26.67, 28.63, -1, 'R'], [28.63, 29.7, -1, 'R'], [29.7, 29.91, -1, 'R'],
  [34.87, 35.04, -1, 'R'],
];

const N_cra: Block[] = [
  [4.27, 13.72, 1, 'K'], [13.72, 13.93, 1, 'R'], [13.93, 15.56, 1, 'K'], [15.56, 15.68, 1, 'R'], [15.68, 18.29, 1, 'K'], [18.29, 18.46, 1, 'R'],
  [18.46, 26.75, 1, 'K'], [26.75, 26.92, 1, 'R'], [26.92, 27.44, 1, 'R'], [27.44, 28.63, 1, 'K'], [28.63, 30.51, 1, 'K'], [30.51, 30.68, 1, 'R'],
  [30.68, 32.22, 1, 'K'], [32.22, 32.39, 1, 'R'], [32.39, 32.56, 1, 'R'], [32.56, 32.69, 1, 'R'],
];

const B_bas: Block[] = [
  [3.5, 3.72, 1, 'R'], [3.72, 4.06, 1, 'V'], [4.06, 4.4, 1, 'R'], [4.4, 12.18, 1, 'V'], [12.18, 12.61, 1, 'R'], [12.61, 12.82, 1, 'R'],
  [12.82, 13.03, 1, 'V'], [13.03, 13.25, 1, 'R'], [13.25, 13.68, 1, 'V'], [13.68, 14.02, 1, 'R'], [14.02, 14.32, 1, 'R'], [14.32, 15.38, 1, 'V'],
  [15.38, 15.6, 1, 'R'], [15.6, 16.24, 1, 'V'], [16.24, 19.02, 1, 'R'], [19.02, 19.23, 1, 'V'], [19.23, 19.57, 1, 'R'], [19.57, 19.87, 1, 'V'],
  [19.87, 20.51, 1, 'R'], [20.51, 20.94, 1, 'V'], [20.94, 21.37, 1, 'R'], [21.37, 21.79, 1, 'V'], [21.79, 22.01, 1, 'R'], [22.01, 22.22, 1, 'V'],
  [22.22, 22.86, 1, 'R'], [22.86, 22.99, 1, 'V'], [22.99, 24.02, 1, 'R'], [24.02, 25.43, 1, 'P'], [25.43, 25.73, 1, 'P'], [25.73, 26.07, 1, 'P'],
  [26.62, 26.75, 1, 'P'], [28.63, 28.72, 1, 'P'], [29.83, 32.05, 1, 'R'], [32.05, 32.82, 1, 'P'], [32.82, 32.99, 1, 'R'], [32.99, 33.16, 1, 'R'],
  [33.16, 33.42, 1, 'R'], [33.42, 50.43, 1, 'V'], [50.43, 50.64, 1, 'P'], [50.64, 50.85, 1, 'P'], [50.85, 51.28, 1, 'P'],
  [26.07, 26.62, -1, 'R'], [26.62, 28.63, -1, 'R'], [28.63, 29.83, -1, 'R'], [32.74, 32.86, -1, 'R'],
];

const trackBlocks: Block[][] = [M_ril, M_alb, M_acr, M_maj, M_gui, M_rob, M_bru, M_ani, T_ree, N_cra, B_bas];

// ---------------- style ----------------
const CLASS_COLORS: Record<string, string> = {
  R: '#FF0040', O: '#FF8C00', Y: '#FFD400', L: '#AAFF00', G: '#00FF44', S: '#00FFA0',
  C: '#00E8FF', D: '#0070FF', P: '#8A00FF', M: '#DD00FF', K: '#F5206F', V: '#5A40FF',
};
const BLOCK_FILL = '#0000FF';
const TRI_SIZE: [number, number][] = [[37, 25], [32, 29], [32, 19], [41, 20], [37, 20], [30, 15], [27, 16], [30, 17], [31, 19], [30, 15], [30, 20]];
const FONT = '"Liberation Sans", Arial, sans-serif';
const HALF = 0.0709; // half block height in track units

function makeTriangle(w: number, h: number): HTMLCanvasElement {
  const c = document.createElement('canvas');
  c.width = w;
  c.height = h;
  const g = c.getContext('2d')!;
  g.fillStyle = '#000';
  g.beginPath();
  g.moveTo(w / 2, 0);
  g.lineTo(w, h);
  g.lineTo(0, h);
  g.closePath();
  g.fill();
  return c;
}

const scaleLabelPlugin = {
  id: 'scaleLabel',
  afterDatasetsDraw(chart: any) {
    const { ctx, scales } = chart;
    const x = scales.x.getPixelForValue((scaleBarKb[0] + scaleBarKb[1]) / 2);
    const y = scales.y.getPixelForValue(scaleBarDepth);
    ctx.save();
    ctx.font = `19px ${FONT}`;
    ctx.fillStyle = '#000';
    ctx.textAlign = 'center';
    ctx.textBaseline = 'bottom';
    ctx.fillText(scaleBarLabel, x, y - 1);
    ctx.restore();
  },
};

export default function App() {
  const ref = useRef<HTMLCanvasElement | null>(null);
  useEffect(() => {
    if (!ref.current) return;
    const blocks = trackBlocks.flatMap((bl, i) =>
      bl.map(([s, e, strand, c]) => ({ x: [s, e], y: i - strand * HALF, c }))
    );
    const lineSets = trackNames.map((_, i) => ({
      type: 'line',
      indexAxis: 'x',
      data: [
        { x: lineStartKb[i], y: i },
        { x: lineEndKb[i], y: i },
      ],
      borderColor: '#3a3a3a',
      borderWidth: 1.2,
      pointRadius: 0,
      order: 3,
      clip: false,
    }));
    const chart = new Chart(ref.current, {
      type: 'bar',
      data: {
        datasets: [
          ...lineSets,
          {
            type: 'bar',
            indexAxis: 'y',
            data: blocks.map((b) => ({ x: b.x, y: b.y })),
            backgroundColor: BLOCK_FILL,
            borderColor: blocks.map((b) => CLASS_COLORS[b.c]),
            borderWidth: 1.5,
            borderSkipped: false,
            barThickness: 13,
            grouped: false,
            order: 2,
            clip: false,
          },
          {
            type: 'scatter',
            indexAxis: 'x',
            data: frhKb.map((x, i) => ({ x, y: i + frhDepth[i] })),
            pointStyle: TRI_SIZE.map(([w, h]) => makeTriangle(w, h)),
            pointRadius: 5,
            hoverRadius: 0,
            order: 1,
            clip: false,
          },
          {
            type: 'line',
            indexAxis: 'x',
            data: [
              { x: scaleBarKb[0], y: scaleBarDepth },
              { x: scaleBarKb[1], y: scaleBarDepth },
            ],
            borderColor: '#000',
            borderWidth: 1.2,
            pointRadius: 0,
            order: 3,
            clip: false,
          },
        ] as any,
      },
      options: {
        responsive: false,
        animation: false,
        devicePixelRatio: 1,
        indexAxis: 'y',
        events: [],
        layout: { autoPadding: false, padding: { left: 10, right: 26, top: 0, bottom: 0 } },
        plugins: {
          legend: { display: false },
          tooltip: { enabled: false },
          title: {
            display: true,
            text: titleText,
            color: '#000',
            font: { size: 23.5, family: FONT, weight: 'normal' as any, lineHeight: 1.2 },
            padding: { top: 5, bottom: 1 },
          },
        },
        scales: {
          x: {
            type: 'linear',
            display: false,
            min: 0,
            max: 55.43,
            offset: false,
            grid: { display: false, offset: false },
          },
          y: {
            type: 'linear',
            reverse: true,
            min: -0.191,
            max: 10.412,
            offset: false,
            grid: { display: false, offset: false },
            border: { display: false },
            afterFit: (scale: any) => {
              scale.width = 0;
              scale.paddingTop = 0;
              scale.paddingBottom = 0;
              scale.paddingLeft = 0;
              scale.paddingRight = 0;
            },
            ticks: {
              stepSize: 1,
              includeBounds: false,
              mirror: true,
              crossAlign: 'near',
              padding: 0,
              color: '#000',
              font: { size: 20, family: FONT },
              autoSkip: false,
              callback: (v: any) => {
                const n = Number(v);
                return Number.isInteger(n) && trackNames[n] ? trackNames[n] : '';
              },
            },
          },
        },
      } as any,
      plugins: [scaleLabelPlugin],
    });
    return () => chart.destroy();
  }, []);
  return (
    <canvas
      ref={ref}
      width={1333}
      height={1006}
      style={{ position: 'absolute', left: 0, top: 0, width: 1333, height: 1006 }}
    />
  );
}
